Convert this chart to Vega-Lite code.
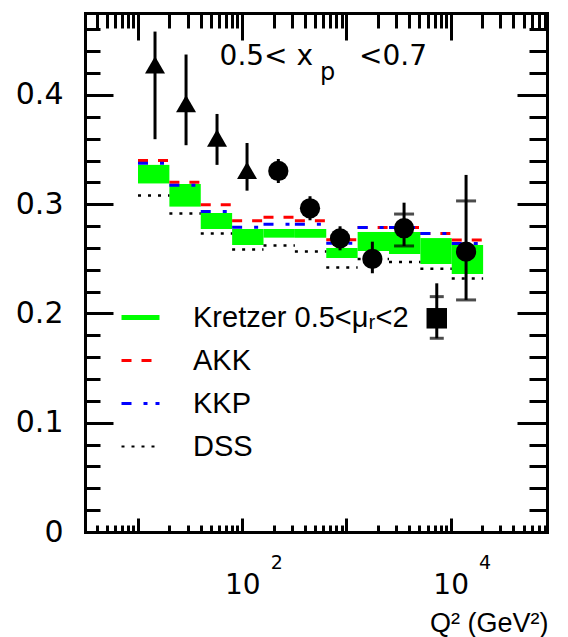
{
  "$schema": "https://vega.github.io/schema/vega-lite/v6.json",
  "width": 462,
  "height": 519,
  "autosize": {"type": "none"},
  "padding": {"left": 85, "top": 13, "right": 21, "bottom": 105},
  "background": "white",
  "config": {
    "view": {"stroke": null},
    "axis": {"grid": false, "domainColor": "black", "tickColor": "black", "labelColor": "black", "labelFont": "DejaVu Sans", "labelOverlap": false, "labelFlush": false, "labelBound": false, "domainCap": "square"},
    "legend": {"orient": "none", "legendX": 41, "legendY": 290, "symbolType": "stroke", "symbolSize": 1444, "symbolStrokeWidth": 3, "labelFont": "Liberation Sans", "labelFontSize": 29, "labelColor": "black", "labelOffset": 38, "rowPadding": 13, "padding": 0, "labelLimit": 400}
  },
  "datasets": {
    "bins": [
      {"lo": 10, "hi": 20, "akk": 0.340, "kkp": 0.3375, "dss": 0.308, "gtop": 0.336, "gbot": 0.319},
      {"lo": 20, "hi": 40, "akk": 0.320, "kkp": 0.3173, "dss": 0.2915, "gtop": 0.3185, "gbot": 0.2978},
      {"lo": 40, "hi": 80, "akk": 0.2995, "kkp": 0.2934, "dss": 0.2732, "gtop": 0.292, "gbot": 0.2773},
      {"lo": 80, "hi": 160, "akk": 0.2849, "kkp": 0.2789, "dss": 0.2586, "gtop": 0.2773, "gbot": 0.2627},
      {"lo": 160, "hi": 320, "akk": 0.288, "kkp": 0.2817, "dss": 0.2622, "gtop": 0.2773, "gbot": 0.2694},
      {"lo": 320, "hi": 640, "akk": 0.2849, "kkp": 0.2817, "dss": 0.2567, "gtop": 0.2773, "gbot": 0.2694},
      {"lo": 640, "hi": 1280, "akk": 0.2675, "kkp": 0.2643, "dss": 0.2421, "gtop": 0.26, "gbot": 0.2508},
      {"lo": 1280, "hi": 2560, "akk": 0.2787, "kkp": 0.2787, "dss": 0.2499, "gtop": 0.2746, "gbot": 0.2572},
      {"lo": 2560, "hi": 5120, "akk": 0.2787, "kkp": 0.2787, "dss": 0.247, "gtop": 0.2746, "gbot": 0.2545},
      {"lo": 5120, "hi": 10240, "akk": 0.2732, "kkp": 0.2732, "dss": 0.241, "gtop": 0.269, "gbot": 0.2453},
      {"lo": 10240, "hi": 20480, "akk": 0.2673, "kkp": 0.2641, "dss": 0.232, "gtop": 0.2627, "gbot": 0.2362}
    ],
    "points": [
      {"q2": 14.56, "v": 0.4275, "lo": 0.3595, "hi": 0.458, "m": "tri"},
      {"q2": 28.9, "v": 0.392, "lo": 0.354, "hi": 0.437, "m": "tri"},
      {"q2": 57.3, "v": 0.3606, "lo": 0.336, "hi": 0.3826, "m": "tri"},
      {"q2": 111.2, "v": 0.331, "lo": 0.3124, "hi": 0.356, "m": "tri"},
      {"q2": 222, "v": 0.3304, "lo": 0.3194, "hi": 0.3414, "m": "circ"},
      {"q2": 447, "v": 0.2963, "lo": 0.2853, "hi": 0.3073, "m": "circ"},
      {"q2": 868, "v": 0.2688, "lo": 0.2578, "hi": 0.2798, "m": "circ"},
      {"q2": 1773, "v": 0.2499, "lo": 0.2368, "hi": 0.2657, "m": "circ"},
      {"q2": 3571, "v": 0.278, "lo": 0.2618, "hi": 0.3014, "m": "circ"},
      {"q2": 7355, "v": 0.1956, "lo": 0.1773, "hi": 0.2276, "m": "sq"},
      {"q2": 14050, "v": 0.2566, "lo": 0.2124, "hi": 0.3268, "m": "circ"}
    ],
    "caps": [
      {"q2": 3571, "v": 0.291, "m": "circ"},
      {"q2": 3571, "v": 0.2618, "m": "circ"},
      {"q2": 7355, "v": 0.2154, "m": "sq"},
      {"q2": 7355, "v": 0.1773, "m": "sq"},
      {"q2": 14050, "v": 0.303, "m": "circ"},
      {"q2": 14050, "v": 0.2124, "m": "circ"}
    ]
  },
  "resolve": {"axis": {"x": "independent", "y": "independent"}, "scale": {"size": "independent"}},
  "layer": [
    {
      "data": {"name": "bins"},
      "mark": {"type": "rect", "color": "#00ff00"},
      "encoding": {
        "x": {"field": "lo", "type": "quantitative", "scale": {"type": "log", "domain": [3.1, 84000], "nice": false},
          "axis": {"orient": "bottom", "values": [100, 10000], "ticks": false, "domain": false, "labelExpr": "'10'", "labelFontSize": 28, "labelPadding": 39, "labelBaseline": "top", "title": null}},
        "x2": {"field": "hi"},
        "y": {"field": "gbot", "type": "quantitative", "scale": {"domain": [0, 0.475], "nice": false, "zero": false},
          "axis": {"orient": "left", "values": [0, 0.1, 0.2, 0.3, 0.4], "ticks": false, "domain": false, "format": ".1~f", "labelFontSize": 30, "labelPadding": 22, "title": null}},
        "y2": {"field": "gtop"}
      }
    },
    {
      "data": {"name": "bins"},
      "mark": {"type": "rule", "strokeWidth": 3},
      "encoding": {
        "x": {"field": "lo", "type": "quantitative",
          "axis": {"orient": "bottom", "values": [100, 10000], "ticks": false, "domain": false, "labelExpr": "datum.value < 1000 ? '2' : '4'", "labelFontSize": 19, "labelPadding": 21, "labelOffset": 34, "labelBaseline": "top", "title": null}},
        "x2": {"field": "hi"},
        "y": {"field": "akk", "type": "quantitative",
          "axis": {"orient": "left", "values": [0, 0.1, 0.2, 0.3, 0.4], "tickSize": -28, "tickWidth": 3, "labels": false, "domain": true, "domainWidth": 3, "title": null}},
        "color": {"datum": "AKK", "scale": {"domain": ["Kretzer 0.5<μᵣ<2", "AKK", "KKP", "DSS"], "range": ["#00ff00", "#ff0000", "#0000ff", "#000000"]}, "legend": {"title": null, "encode": {"symbols": {"update": {"strokeWidth": {"signal": "datum.index === 0 ? 5 : (datum.index === 3 ? 2 : 3)"}}}}}},
        "strokeDash": {"datum": "AKK", "scale": {"domain": ["Kretzer 0.5<μᵣ<2", "AKK", "KKP", "DSS"], "range": [[1, 0], [10, 10], [10, 12, 4, 8], [3, 7]]}, "legend": {"title": null}}
      }
    },
    {
      "data": {"name": "bins"},
      "mark": {"type": "rule", "strokeWidth": 3},
      "encoding": {
        "x": {"field": "lo", "type": "quantitative",
          "axis": {"orient": "bottom", "values": [10, 100, 1000, 10000], "tickSize": -14, "tickWidth": 3, "labels": false, "domain": true, "domainWidth": 3,
            "title": "Q² (GeV²)", "titleFont": "Liberation Sans", "titleFontSize": 27, "titleFontWeight": "normal", "titleColor": "black", "titleAlign": "right", "titleAnchor": "end", "titleX": 463, "titleY": 99, "titleBaseline": "alphabetic"}},
        "x2": {"field": "hi"},
        "y": {"field": "kkp", "type": "quantitative",
          "axis": {"orient": "left", "values": [0.02, 0.04, 0.06, 0.08, 0.12, 0.14, 0.16, 0.18, 0.22, 0.24, 0.26, 0.28, 0.32, 0.34, 0.36, 0.38, 0.42, 0.44, 0.46], "tickSize": -15, "tickWidth": 3, "labels": false, "domain": false, "title": null}},
        "color": {"datum": "KKP", "scale": {"domain": ["Kretzer 0.5<μᵣ<2", "AKK", "KKP", "DSS"], "range": ["#00ff00", "#ff0000", "#0000ff", "#000000"]}, "legend": {"title": null, "encode": {"symbols": {"update": {"strokeWidth": {"signal": "datum.index === 0 ? 5 : (datum.index === 3 ? 2 : 3)"}}}}}},
        "strokeDash": {"datum": "KKP", "scale": {"domain": ["Kretzer 0.5<μᵣ<2", "AKK", "KKP", "DSS"], "range": [[1, 0], [10, 10], [10, 12, 4, 8], [3, 7]]}, "legend": {"title": null}}
      }
    },
    {
      "data": {"name": "bins"},
      "mark": {"type": "rule", "strokeWidth": 2.5},
      "encoding": {
        "x": {"field": "lo", "type": "quantitative",
          "axis": {"orient": "bottom", "values": [4, 5, 6, 7, 8, 9, 20, 30, 40, 50, 60, 70, 80, 90, 200, 300, 400, 500, 600, 700, 800, 900, 2000, 3000, 4000, 5000, 6000, 7000, 8000, 9000, 20000, 30000, 40000, 50000, 60000, 70000, 80000], "tickSize": -7, "tickWidth": 3, "labels": false, "domain": false, "title": null}},
        "x2": {"field": "hi"},
        "y": {"field": "dss", "type": "quantitative",
          "axis": {"orient": "right", "values": [0, 0.1, 0.2, 0.3, 0.4], "tickSize": -30, "tickWidth": 3, "labels": false, "domain": true, "domainWidth": 3, "title": null}},
        "color": {"datum": "DSS", "scale": {"domain": ["Kretzer 0.5<μᵣ<2", "AKK", "KKP", "DSS"], "range": ["#00ff00", "#ff0000", "#0000ff", "#000000"]}, "legend": {"title": null, "encode": {"symbols": {"update": {"strokeWidth": {"signal": "datum.index === 0 ? 5 : (datum.index === 3 ? 2 : 3)"}}}}}},
        "strokeDash": {"datum": "DSS", "scale": {"domain": ["Kretzer 0.5<μᵣ<2", "AKK", "KKP", "DSS"], "range": [[1, 0], [10, 10], [10, 12, 4, 8], [3, 7]]}, "legend": {"title": null}}
      }
    },
    {
      "data": {"name": "points"},
      "mark": {"type": "rule", "strokeWidth": 3, "color": "black"},
      "encoding": {
        "x": {"field": "q2", "type": "quantitative",
          "axis": {"orient": "top", "values": [10, 100, 1000, 10000], "tickSize": -27, "tickWidth": 3, "labels": false, "domain": true, "domainWidth": 3, "title": null}},
        "y": {"field": "lo", "type": "quantitative",
          "axis": {"orient": "right", "values": [0.02, 0.04, 0.06, 0.08, 0.12, 0.14, 0.16, 0.18, 0.22, 0.24, 0.26, 0.28, 0.32, 0.34, 0.36, 0.38, 0.42, 0.44, 0.46], "tickSize": -18, "tickWidth": 3, "labels": false, "domain": false, "title": null}},
        "y2": {"field": "hi"}
      }
    },
    {
      "data": {"name": "caps"},
      "mark": {"type": "tick", "orient": "horizontal", "thickness": 3, "color": "black"},
      "encoding": {
        "x": {"field": "q2", "type": "quantitative",
          "axis": {"orient": "top", "values": [4, 5, 6, 7, 8, 9, 20, 30, 40, 50, 60, 70, 80, 90, 200, 300, 400, 500, 600, 700, 800, 900, 2000, 3000, 4000, 5000, 6000, 7000, 8000, 9000, 20000, 30000, 40000, 50000, 60000, 70000, 80000], "tickSize": -15, "tickWidth": 3, "labels": false, "domain": false, "title": null}},
        "y": {"field": "v", "type": "quantitative", "axis": null},
        "size": {"field": "m", "type": "nominal", "scale": {"domain": ["circ", "sq"], "range": [20, 14]}, "legend": null}
      }
    },
    {
      "data": {"name": "points"},
      "mark": {"type": "point", "filled": true, "opacity": 1, "color": "black"},
      "encoding": {
        "x": {"field": "q2", "type": "quantitative", "axis": null},
        "y": {"field": "v", "type": "quantitative", "axis": null},
        "shape": {"field": "m", "type": "nominal", "scale": {"domain": ["tri", "circ", "sq"], "range": ["triangle-up", "circle", "square"]}, "legend": null},
        "size": {"field": "m", "type": "nominal", "scale": {"domain": ["tri", "circ", "sq"], "range": [400, 420, 230]}, "legend": null}
      }
    },
    {
      "data": {"values": [{}]},
      "mark": {"type": "text", "text": "0.5< x", "align": "right", "baseline": "alphabetic", "font": "DejaVu Sans", "fontSize": 28, "dx": -13, "color": "black"},
      "encoding": {
        "x": {"datum": 637, "type": "quantitative", "axis": null},
        "y": {"datum": 0.4275, "type": "quantitative", "axis": null}
      }
    },
    {
      "data": {"values": [{}]},
      "mark": {"type": "text", "text": "p", "align": "left", "baseline": "alphabetic", "font": "DejaVu Sans", "fontSize": 24, "dx": -6, "dy": 15, "color": "black"},
      "encoding": {
        "x": {"datum": 637, "type": "quantitative", "axis": null},
        "y": {"datum": 0.4275, "type": "quantitative", "axis": null}
      }
    },
    {
      "data": {"values": [{}]},
      "mark": {"type": "text", "text": "<0.7", "align": "left", "baseline": "alphabetic", "font": "DejaVu Sans", "fontSize": 28, "dx": 33, "color": "black"},
      "encoding": {
        "x": {"datum": 637, "type": "quantitative", "axis": null},
        "y": {"datum": 0.4275, "type": "quantitative", "axis": null}
      }
    }
  ]
}
